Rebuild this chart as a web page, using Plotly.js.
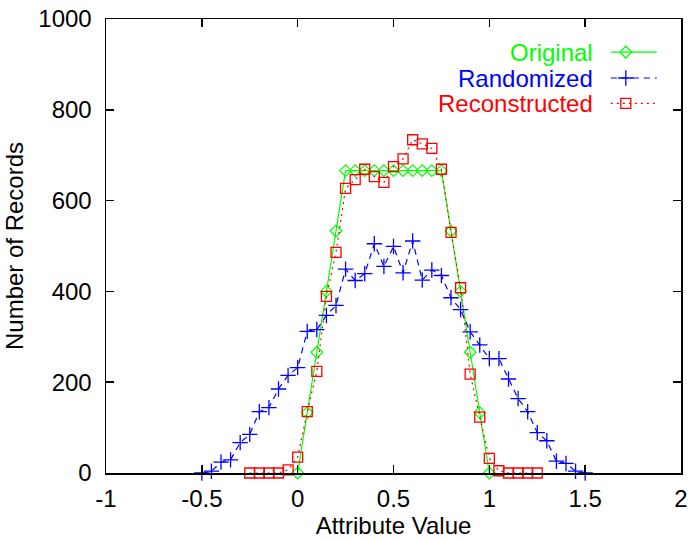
<!DOCTYPE html>
<html>
<head>
<meta charset="utf-8">
<script src="https://cdn.plot.ly/plotly-3.0.1.min.js"></script>
<style>html,body{margin:0;padding:0;background:#fff;}#chart{width:691px;height:540px;}</style>
</head>
<body>
<div id="chart"></div>
<script>
// ---- data ----
const originalX = [0,0.05,0.1,0.15,0.2,0.25,0.3,0.35,0.4,0.45,0.5,0.55,0.6,0.65,0.7,0.75,0.8,0.85,0.9,0.95,1.0];
const originalY = [0,133,266,400,533,666,666,666,666,666,666,666,666,666,666,666,533,400,266,133,0];

const randomizedX = [-0.5,-0.45,-0.4,-0.35,-0.3,-0.25,-0.2,-0.15,-0.1,-0.05,0,0.05,0.1,0.15,0.2,0.25,0.3,0.35,0.4,0.45,0.5,0.55,0.6,0.65,0.7,0.75,0.8,0.85,0.9,0.95,1.0,1.05,1.1,1.15,1.2,1.25,1.3,1.35,1.4,1.45,1.5];
const randomizedY = [0,4,24,29,67,85,135,144,185,215,232,312,316,347,369,449,424,439,505,455,499,441,511,425,447,435,386,360,311,282,252,252,207,164,135,89,71,26,21,4,0];

const reconstructedX = [-0.25,-0.2,-0.15,-0.1,-0.05,0,0.05,0.1,0.15,0.2,0.25,0.3,0.35,0.4,0.45,0.5,0.55,0.6,0.65,0.7,0.75,0.8,0.85,0.9,0.95,1.0,1.05,1.1,1.15,1.2,1.25];
const reconstructedY = [0,0,0,0,7,35,135,224,389,486,627,646,669,653,640,675,692,734,725,715,669,530,408,218,123,32,5,0,0,0,0];

const seriesNames = ["Original","Randomized","Reconstructed"];
const xTickVals = [-1,-0.5,0,0.5,1,1.5,2];
const xTickText = ["-1","-0.5","0","0.5","1","1.5","2"];
const yTickVals = [0,200,400,600,800,1000];
const yTickText = ["0","200","400","600","800","1000"];

// ---- styles ----
const GREEN = "#00ff00", BLUE = "#0000ff", RED = "#ff0000";
const FONT = "Liberation Sans, Arial, Helvetica, sans-serif";

const traces = [
  {x: originalX, y: originalY, name: seriesNames[0], type: "scatter", mode: "lines+markers", cliponaxis: false,
   line: {color: GREEN, width: 1.2, dash: "solid"},
   marker: {symbol: "diamond-open", size: 9, color: GREEN, line: {width: 1.2, color: GREEN}}},
  {x: randomizedX, y: randomizedY, name: seriesNames[1], type: "scatter", mode: "lines+markers", cliponaxis: false,
   line: {color: BLUE, width: 1.2, dash: "6px,5px"},
   marker: {symbol: "cross-thin-open", size: 11, color: BLUE, line: {width: 1.3, color: BLUE}}},
  {x: reconstructedX, y: reconstructedY, name: seriesNames[2], type: "scatter", mode: "lines+markers", cliponaxis: false,
   line: {color: RED, width: 1.2, dash: "2px,4px"},
   marker: {symbol: "square-open", size: 10, color: RED, line: {width: 1.3, color: RED}}}
];

// legend samples (gnuplot style: text left, sample right), drawn on an overlay axis
const legendRowsY = [0.927, 0.870, 0.814];
const legendColors = [GREEN, BLUE, RED];
const legendDash = ["solid", "6px,5px", "2px,4px"];
const legendSym = ["diamond-open", "cross-thin-open", "square-open"];
const legendSize = [9, 11, 10];
for (let i = 0; i < 3; i++) {
  traces.push({x: [0.878, 0.958], y: [legendRowsY[i], legendRowsY[i]], xaxis: "x2", yaxis: "y2",
    mode: "lines", showlegend: false, hoverinfo: "skip",
    line: {color: legendColors[i], width: 1.2, dash: legendDash[i]}});
  traces.push({x: [0.904], y: [legendRowsY[i]], xaxis: "x2", yaxis: "y2",
    mode: "markers", showlegend: false, hoverinfo: "skip",
    marker: {symbol: legendSym[i], size: legendSize[i], color: legendColors[i], line: {width: 1.3, color: legendColors[i]}}});
}

const annotations = seriesNames.map((n, i) => ({
  xref: "paper", yref: "paper", x: 0.849, y: legendRowsY[i], xanchor: "right", yanchor: "middle",
  text: n, showarrow: false, borderpad: 0, font: {family: FONT, size: 24, color: legendColors[i]}
}));

const layout = {
  width: 691, height: 540,
  margin: {l: 106, r: 10, t: 19, b: 67},
  paper_bgcolor: "#fff", plot_bgcolor: "#fff",
  font: {family: FONT, size: 24, color: "#000"},
  showlegend: false,
  xaxis: {
    range: [-1, 2], tickvals: xTickVals, ticktext: xTickText,
    ticks: "inside", ticklen: 8, tickwidth: 1.5, tickcolor: "#000",
    showline: true, linecolor: "#000", linewidth: 1.5, mirror: "ticks",
    showgrid: false, zeroline: false, ticklabelstandoff: 4,
    tickfont: {family: FONT, size: 24, color: "#000"},
    title: {text: "Attribute Value", font: {family: FONT, size: 24, color: "#000"}, standoff: 0}
  },
  yaxis: {
    range: [0, 1000], tickvals: yTickVals, ticktext: yTickText,
    ticks: "inside", ticklen: 8, tickwidth: 1.5, tickcolor: "#000",
    showline: true, linecolor: "#000", linewidth: 1.5, mirror: "ticks",
    showgrid: false, zeroline: false, ticklabelstandoff: 8,
    tickfont: {family: FONT, size: 24, color: "#000"},
    title: {text: "Number of Records", font: {family: FONT, size: 24, color: "#000"}, standoff: 8}
  },
  xaxis2: {overlaying: "x", range: [0, 1], visible: false, fixedrange: true},
  yaxis2: {overlaying: "y", range: [0, 1], visible: false, fixedrange: true},
  annotations: annotations
};

Plotly.newPlot("chart", traces, layout, {displayModeBar: false, staticPlot: true});
</script>
</body>
</html>
